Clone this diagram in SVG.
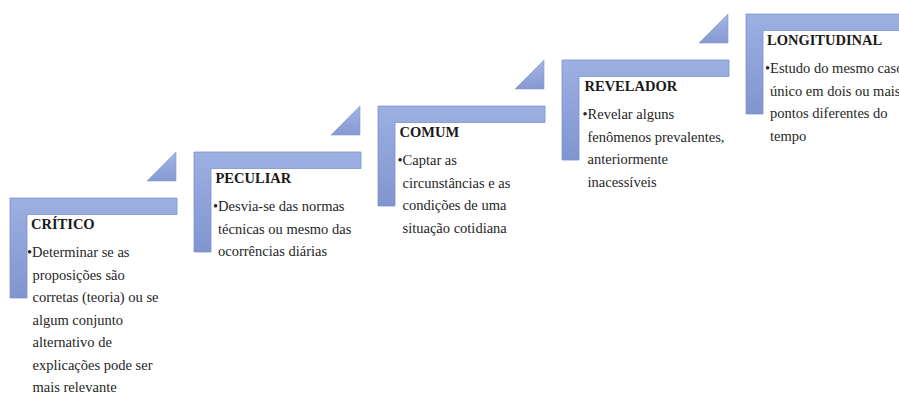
<svg xmlns="http://www.w3.org/2000/svg" xmlns:xlink="http://www.w3.org/1999/xlink" width="899" height="403" viewBox="0 0 899 403">
  <defs>
    <linearGradient id="stepFill" x1="0" y1="0" x2="0" y2="1">
      <stop offset="0" stop-color="#9DB0E2"/>
      <stop offset="1" stop-color="#8095D0"/>
    </linearGradient>
    <linearGradient id="triFill" x1="0" y1="0" x2="0" y2="1">
      <stop offset="0" stop-color="#A4B5E4"/>
      <stop offset="1" stop-color="#8599D2"/>
    </linearGradient>
    <!-- corner bracket of one step -->
    <path id="corner" d="M0 0 H167 V16.5 H17 V100 H0 Z"/>
    <!-- small rising triangle towards the next step -->
    <path id="riser" d="M137 -17 H166 V-46 Z"/>
  </defs>
  <style>
    .corner { fill: url(#stepFill); stroke: #7F92CA; stroke-width: 0.8; }
    .riser { fill: url(#triFill); stroke: #8699CF; stroke-width: 0.6; }
    text { font-family: 'Liberation Serif', 'DejaVu Serif', serif; font-size: 14.5px; }
    .title { font-weight: bold; fill: #1a1a1a; }
    .body { fill: #262626; }
  </style>

  <rect width="899" height="403" fill="#ffffff"/>

  <!-- step triangles between stages -->
  <g id="connectors">
    <use xlink:href="#riser" class="riser" transform="translate(10,198)"/>
    <use xlink:href="#riser" class="riser" transform="translate(194,152)"/>
    <use xlink:href="#riser" class="riser" transform="translate(378,106)"/>
    <use xlink:href="#riser" class="riser" transform="translate(562,60)"/>
  </g>

  <g id="step-critico" transform="translate(10,198)">
    <use xlink:href="#corner" class="corner"/>
    <text class="title" x="21" y="31">CRÍTICO</text>
    <text class="body">
      <tspan x="17" y="59">•Determinar se as</tspan>
      <tspan x="22.5" y="81.5">proposições  são</tspan>
      <tspan x="22.5" y="104">corretas (teoria) ou se</tspan>
      <tspan x="22.5" y="126.5">algum  conjunto</tspan>
      <tspan x="22.5" y="149">alternativo  de</tspan>
      <tspan x="22.5" y="171.5">explicações pode ser</tspan>
      <tspan x="22.5" y="194">mais relevante</tspan>
    </text>
  </g>

  <g id="step-peculiar" transform="translate(194,152)">
    <use xlink:href="#corner" class="corner"/>
    <text class="title" x="21.5" y="31">PECULIAR</text>
    <text class="body">
      <tspan x="19" y="59">•Desvia-se das normas</tspan>
      <tspan x="24" y="81.5">técnicas ou mesmo das</tspan>
      <tspan x="24" y="104">ocorrências diárias</tspan>
    </text>
  </g>

  <g id="step-comum" transform="translate(378,106)">
    <use xlink:href="#corner" class="corner"/>
    <text class="title" x="21.5" y="31">COMUM</text>
    <text class="body">
      <tspan x="19.5" y="59">•Captar as</tspan>
      <tspan x="24.5" y="81.5">circunstâncias e as</tspan>
      <tspan x="24.5" y="104">condições de uma</tspan>
      <tspan x="24.5" y="126.5">situação cotidiana</tspan>
    </text>
  </g>

  <g id="step-revelador" transform="translate(562,60)">
    <use xlink:href="#corner" class="corner"/>
    <text class="title" x="22.5" y="31">REVELADOR</text>
    <text class="body">
      <tspan x="20.5" y="59">•Revelar alguns</tspan>
      <tspan x="25.5" y="81.5">fenômenos prevalentes,</tspan>
      <tspan x="25.5" y="104">anteriormente</tspan>
      <tspan x="25.5" y="126.5">inacessíveis</tspan>
    </text>
  </g>

  <g id="step-longitudinal" transform="translate(746,14)">
    <use xlink:href="#corner" class="corner"/>
    <text class="title" x="21" y="31">LONGITUDINAL</text>
    <text class="body">
      <tspan x="19" y="59">•Estudo do mesmo caso</tspan>
      <tspan x="24" y="81.5">único em dois ou mais</tspan>
      <tspan x="24" y="104">pontos diferentes do</tspan>
      <tspan x="24" y="126.5">tempo</tspan>
    </text>
  </g>
</svg>
